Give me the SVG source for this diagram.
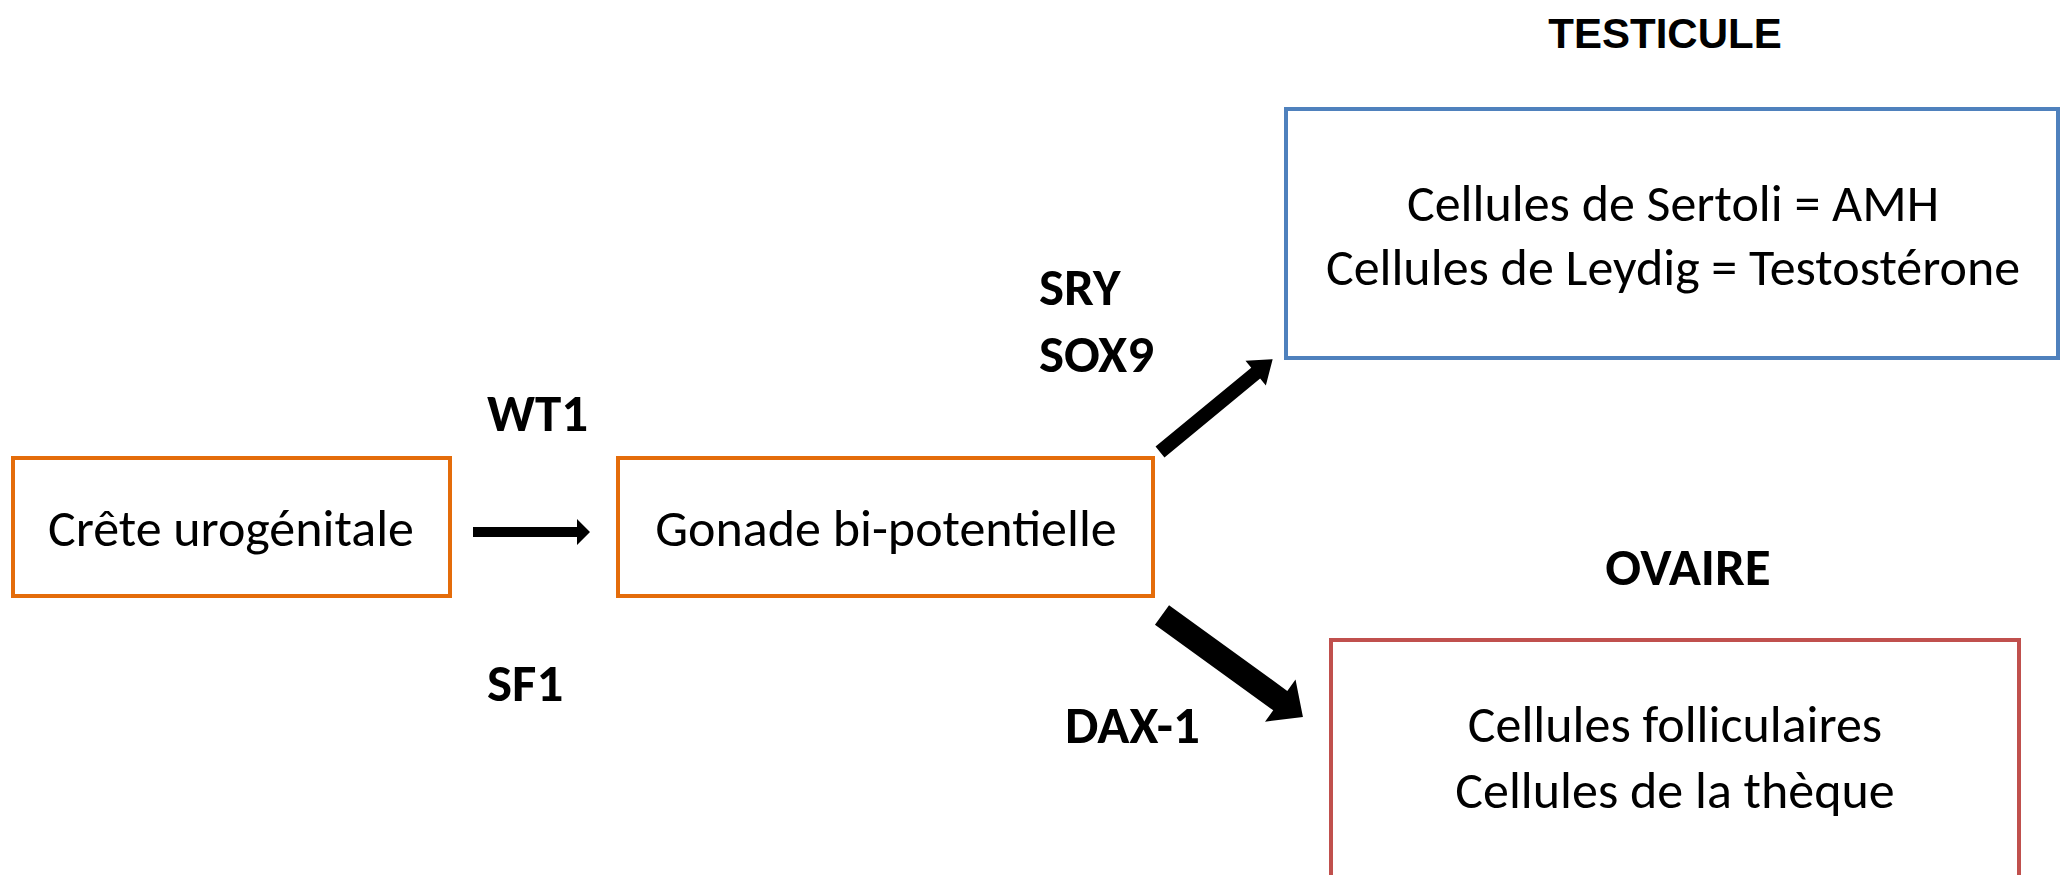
<svg xmlns="http://www.w3.org/2000/svg" width="2062" height="875" viewBox="0 0 2062 875">
<style>
.box{fill:#fff;stroke-width:4}
.orange{stroke:#E46C0A}
.blue{stroke:#4F81BD}
.red{stroke:#C0504D}
.t{font-family:Carlito,Lato,"Open Sans",sans-serif;font-size:52px;fill:#000;text-anchor:middle}
.tr{font-family:Carlito,Lato,"Open Sans",sans-serif;font-size:52px;fill:#000;text-anchor:middle}
.lbl{font-family:Carlito,Lato,"Open Sans",sans-serif;font-size:53px;font-weight:bold;fill:#000}
.title{font-family:"Liberation Sans",Arial,sans-serif;font-size:42px;font-weight:bold;fill:#000;text-anchor:middle}
.arrow{fill:#000}
</style>
<rect width="2062" height="875" fill="#fff"/>
<g id="node-crete">
<rect class="box orange" x="13" y="458" width="437" height="138"/>
<text class="t" x="231" y="546">Crête urogénitale</text>
</g>
<g id="node-gonade">
<rect class="box orange" x="618" y="458" width="535" height="138"/>
<text class="t" x="886" y="546">Gonade bi-potentielle</text>
</g>
<g id="node-testicule">
<text class="title" x="1665" y="48">TESTICULE</text>
<rect class="box blue" x="1286" y="109" width="772" height="249"/>
<text class="tr" x="1673" y="221">Cellules de Sertoli = AMH</text>
<text class="tr" x="1673" y="285">Cellules de Leydig = Testostérone</text>
</g>
<g id="node-ovaire">
<text class="lbl" x="1688" y="585" text-anchor="middle">OVAIRE</text>
<rect class="box red" x="1331" y="640" width="688" height="260"/>
<text class="tr" x="1675" y="742">Cellules folliculaires</text>
<text class="tr" x="1675" y="808">Cellules de la thèque</text>
</g>
<g id="connectors">
<polygon class="arrow" points="473,527 577,527 577,519 590,532 577,545 577,537 473,537"/>
<g transform="translate(1160,452) rotate(-39.5)">
<polygon class="arrow" points="0,-7 124,-7 124,-16 146,0 124,16 124,7 0,7"/>
</g>
<g transform="translate(1162,615) rotate(35.9)">
<polygon class="arrow" points="0,-12 146,-12 146,-26 174,0 146,26 146,12 0,12"/>
</g>
</g>
<g id="labels">
<text class="lbl" x="487" y="431">WT1</text>
<text class="lbl" x="487" y="701">SF1</text>
<text class="lbl" x="1039" y="305">SRY</text>
<text class="lbl" x="1039" y="372">SOX9</text>
<text class="lbl" x="1065" y="743">DAX-1</text>
</g>
</svg>
